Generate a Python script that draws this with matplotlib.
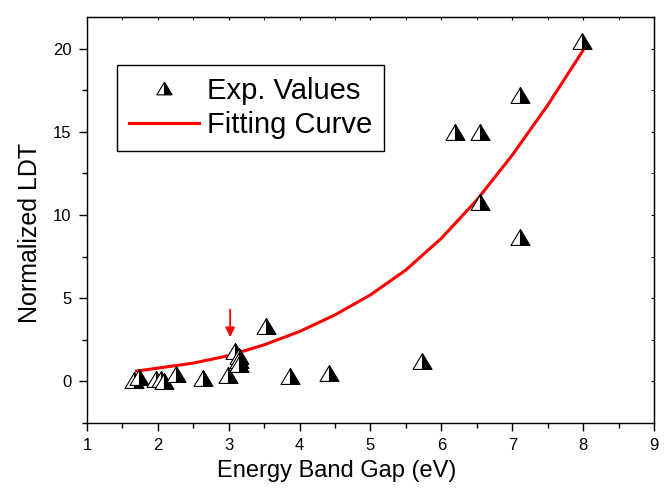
import matplotlib
matplotlib.use("Agg")
import matplotlib.pyplot as plt
from matplotlib.ticker import MultipleLocator

plt.rcParams['font.family'] = ['Liberation Sans', 'DejaVu Sans']

band_gap = [1.67, 1.74, 1.98, 2.05, 2.08, 2.26, 2.63, 2.99, 3.09, 3.14,
            3.15, 3.15, 3.53, 3.86, 4.42, 5.72, 6.19, 6.54, 6.54, 7.11,
            7.11, 7.98]
ldt = [0.1, 0.25, 0.15, 0.15, 0.05, 0.42, 0.22, 0.38, 1.82, 1.5,
       1.3, 1.05, 3.32, 0.3, 0.48, 1.2, 14.96, 14.96, 10.78, 17.23,
       8.67, 20.47]

# fitting curve
fit_x = [1.7, 2.0, 2.5, 3.0, 3.5, 4.0, 4.5, 5.0, 5.5, 6.0, 6.5, 7.0, 7.5, 8.0]
fit_y = [0.62, 0.8, 1.1, 1.55, 2.2, 3.0, 4.0, 5.2, 6.7, 8.6, 10.9, 13.6, 16.6, 19.9]

arrow_x = 3.02
arrow_from, arrow_to = 4.31, 2.66

# half filled triangle, a bit wider than tall
left_half = [(0, 0.5), (-0.6, -0.5), (0, -0.5), (0, 0.5)]
right_half = [(0, 0.5), (0, -0.5), (0.6, -0.5), (0, 0.5)]

fig = plt.figure(figsize=(6.66, 4.94), dpi=100)
ax = fig.add_axes([0.1306, 0.1437, 0.8514, 0.8219])

fit_line, = ax.plot(fit_x, fit_y, color="red", linewidth=2.2, zorder=2)

m_black, = ax.plot(band_gap, ldt, linestyle="None", marker=right_half,
                   markersize=13.7, markerfacecolor="black",
                   markeredgecolor="black", markeredgewidth=0.8, zorder=3)
m_white, = ax.plot(band_gap, ldt, linestyle="None", marker=left_half,
                   markersize=13.7, markerfacecolor="white",
                   markeredgecolor="black", markeredgewidth=0.8, zorder=3)

ax.annotate("", xy=(arrow_x, arrow_to), xytext=(arrow_x, arrow_from),
            arrowprops=dict(arrowstyle="-|>", color="red", lw=1.3,
                            mutation_scale=14, shrinkA=0, shrinkB=0))

ax.set_xlim(1, 9)
ax.set_ylim(-2.5, 21.9)
ax.xaxis.set_major_locator(MultipleLocator(1))
ax.xaxis.set_minor_locator(MultipleLocator(0.5))
ax.yaxis.set_major_locator(MultipleLocator(5))
ax.yaxis.set_minor_locator(MultipleLocator(2.5))

ax.tick_params(which="major", direction="out", length=6, width=1,
               labelsize=12, pad=5, colors="black")
ax.tick_params(which="minor", direction="out", length=3.5, width=1)
for s in ax.spines.values():
    s.set_linewidth(1.0)

# inward ticks on top and right
top = ax.secondary_xaxis("top")
top.xaxis.set_major_locator(MultipleLocator(1))
top.xaxis.set_minor_locator(MultipleLocator(0.5))
top.tick_params(which="both", direction="in", length=2.5, labeltop=False)
right = ax.secondary_yaxis("right")
right.yaxis.set_major_locator(MultipleLocator(5))
right.yaxis.set_minor_locator(MultipleLocator(2.5))
right.tick_params(which="both", direction="in", length=2.5, labelright=False)

ax.set_xlabel("Energy Band Gap (eV)", fontsize=17)
ax.set_ylabel("Normalized LDT", fontsize=18)
ax.xaxis.set_label_coords(0.44, -0.09)
ax.yaxis.set_label_coords(-0.079, 0.469)

leg = ax.legend([(m_black, m_white), fit_line], ["Exp. Values", "Fitting Curve"],
                loc="upper left", bbox_to_anchor=(0.053, 0.882), borderaxespad=0,
                fontsize=21, handlelength=2.4, handletextpad=0.3,
                labelspacing=0.22, markerscale=0.8, fancybox=False,
                edgecolor="black", framealpha=1)
leg.get_frame().set_linewidth(1.0)

fig.savefig("out.png", dpi=100)
